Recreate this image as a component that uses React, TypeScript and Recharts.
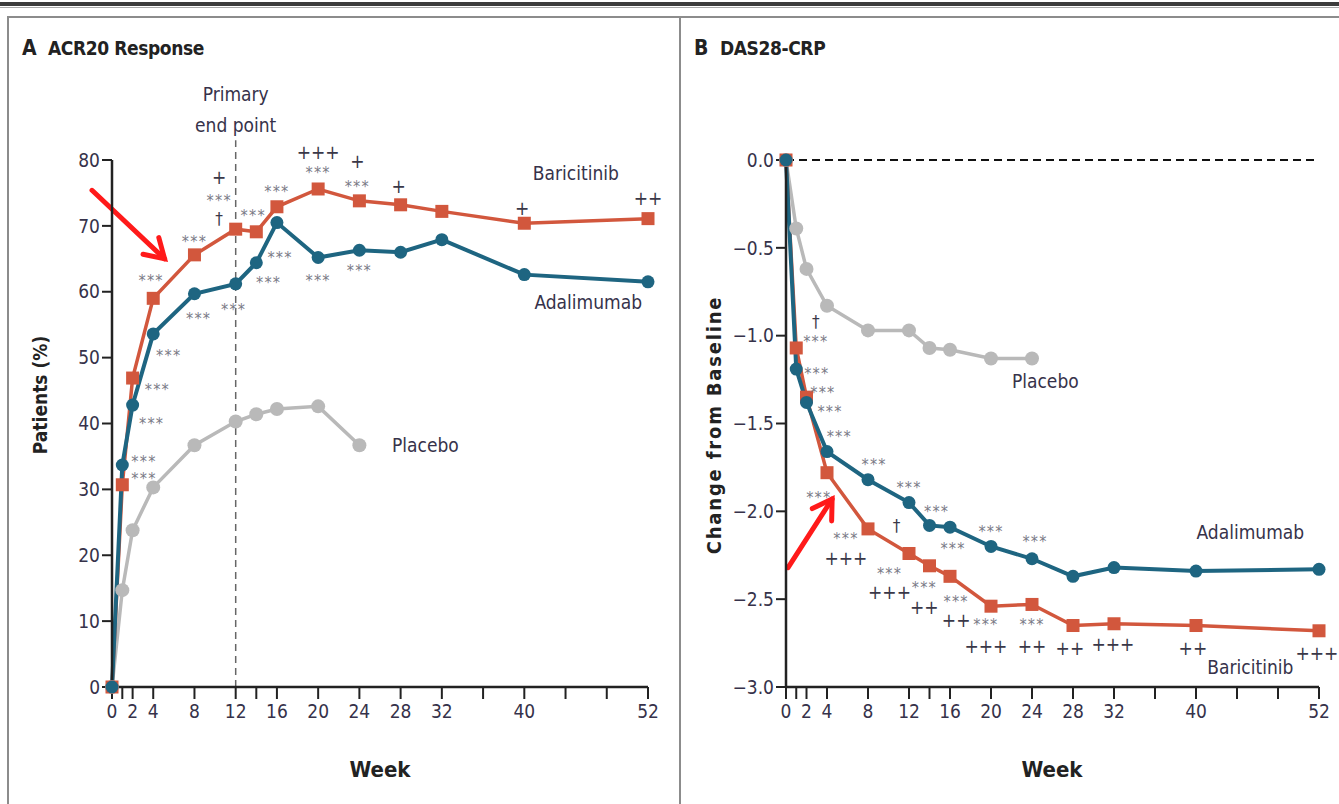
import { LineChart, Line, XAxis, YAxis, ReferenceLine, ReferenceDot } from "recharts";

const FONT = '"Liberation Sans Narrow", "DejaVu Sans Condensed", "DejaVu Sans", sans-serif';
const RED = "#d2573d";
const TEAL = "#1e6581";
const GRAY = "#b9b9b9";
const INK = "#36324a";

// shared week axis
const weekTicks = [0, 1, 2, 4, 8, 12, 14, 16, 20, 24, 28, 32, 36, 40, 44, 48, 52];
const weekLabels = [0, 2, 4, 8, 12, 16, 20, 24, 28, 32, 40, 52];

// A: ACR20 response, % of patients
const acrWeeks = [0, 1, 2, 4, 8, 12, 14, 16, 20, 24, 28, 32, 40, 52];
const acrBaricitinib = [0, 30.7, 46.9, 59.0, 65.6, 69.5, 69.1, 72.9, 75.6, 73.8, 73.2, 72.2, 70.4, 71.1];
const acrAdalimumab = [0, 33.7, 42.8, 53.6, 59.7, 61.2, 64.4, 70.5, 65.2, 66.3, 66.0, 67.9, 62.6, 61.5];
const acrPlacebo = [0, 14.7, 23.8, 30.3, 36.7, 40.3, 41.4, 42.2, 42.6, 36.7];
const acrTicks = [0, 10, 20, 30, 40, 50, 60, 70, 80];

// B: DAS28-CRP change from baseline
const dasWeeks = [0, 1, 2, 4, 8, 12, 14, 16, 20, 24, 28, 32, 40, 52];
const dasBaricitinib = [0, -1.07, -1.35, -1.78, -2.1, -2.24, -2.31, -2.37, -2.54, -2.53, -2.65, -2.64, -2.65, -2.68];
const dasAdalimumab = [0, -1.19, -1.38, -1.66, -1.82, -1.95, -2.08, -2.09, -2.2, -2.27, -2.37, -2.32, -2.34, -2.33];
const dasPlacebo = [0, -0.39, -0.62, -0.83, -0.97, -0.97, -1.07, -1.08, -1.13, -1.13];
const dasTicks = [0, -0.5, -1, -1.5, -2, -2.5, -3];

// significance marks [week, value, text]
const acrNotes: [number, number, string][] = [
  [3.8, 62.3, "***"], [8.0, 68.3, "***"],
  [10.4, 77.4, "+"], [10.4, 74.5, "***"], [10.4, 70.9, "†"],
  [13.7, 72.2, "***"], [16.0, 75.9, "***"],
  [20, 81.2, "+++"], [20, 78.8, "***"],
  [23.8, 79.7, "+"], [23.8, 76.6, "***"],
  [27.8, 76.0, "+"], [39.8, 72.7, "+"], [52, 74.2, "++"],
  [8.4, 56.5, "***"], [11.8, 58.0, "***"], [15.2, 62.0, "***"], [16.3, 65.8, "***"],
  [20, 62.4, "***"], [24, 63.8, "***"],
  [5.5, 51.0, "***"], [4.4, 45.8, "***"], [3.85, 40.6, "***"], [3.1, 34.9, "***"], [3.1, 32.3, "***"],
];
const dasNotes: [number, number, string][] = [
  [2.9, -0.93, "†"], [2.9, -1.01, "***"], [3.0, -1.19, "***"], [3.6, -1.3, "***"], [4.3, -1.41, "***"],
  [5.2, -1.55, "***"], [8.6, -1.71, "***"], [12.0, -1.84, "***"], [14.7, -1.98, "***"],
  [16.3, -2.19, "***"], [20, -2.09, "***"], [24.3, -2.15, "***"],
  [3.2, -1.9, "***"], [5.85, -2.13, "***"], [5.85, -2.27, "+++"], [10.8, -2.09, "†"],
  [10.1, -2.33, "***"], [10.1, -2.46, "+++"], [13.5, -2.41, "***"], [13.5, -2.55, "++"],
  [16.6, -2.49, "***"], [16.6, -2.62, "++"], [19.5, -2.62, "***"], [19.5, -2.77, "+++"],
  [24, -2.62, "***"], [24, -2.77, "++"],
  [27.7, -2.78, "++"], [31.9, -2.76, "+++"], [39.7, -2.78, "++"], [51.8, -2.81, "+++"],
];

// series names placed next to the lines
const acrNames: [number, number, string][] = [
  [45, 77.9, "Baricitinib"], [46.2, 58.4, "Adalimumab"], [30.4, 36.7, "Placebo"],
];
const dasNames: [number, number, string][] = [
  [25.3, -1.26, "Placebo"], [45.3, -2.12, "Adalimumab"], [45.3, -2.89, "Baricitinib"],
];

// red call-out arrows, from -> to in data units
const acrArrow = [{ x: -1.94, y: 75.4 }, { x: 5.1, y: 65.0 }];
const dasArrow = [{ x: 0.2, y: -2.32 }, { x: 4.5, y: -1.93 }];

const acrData = acrWeeks.map((w, i) => ({
  week: w,
  bari: acrBaricitinib[i],
  ada: acrAdalimumab[i],
  pbo: i < acrPlacebo.length ? acrPlacebo[i] : null,
}));
const dasData = dasWeeks.map((w, i) => ({
  week: w,
  bari: dasBaricitinib[i],
  ada: dasAdalimumab[i],
  pbo: i < dasPlacebo.length ? dasPlacebo[i] : null,
}));

const missing = (p: any) => p.cx == null || p.cy == null || p.value == null;
const Square = (p: any) =>
  missing(p) ? null : <rect key={p.key} x={p.cx - 6.5} y={p.cy - 6.5} width={13} height={13} fill={RED} />;
const TealDot = (p: any) =>
  missing(p) ? null : <circle key={p.key} cx={p.cx} cy={p.cy} r={6.5} fill={TEAL} />;
const GrayDot = (p: any) =>
  missing(p) ? null : <circle key={p.key} cx={p.cx} cy={p.cy} r={7} fill={GRAY} />;

function noteShape(t: string) {
  return (p: any) => {
    if (t === "***")
      return (
        <text
          x={p.cx}
          y={p.cy}
          dy="0.6em"
          textAnchor="middle"
          fontFamily={FONT}
          fontSize={16}
          letterSpacing={1.2}
          fill="#7a7a86"
        >
          {t}
        </text>
      );
    const dagger = t === "†";
    return (
      <text
        x={p.cx}
        y={p.cy}
        dy={dagger ? "0.3em" : "0.34em"}
        textAnchor="middle"
        fontFamily={FONT}
        fontSize={dagger ? 17 : 19}
        fill="#3a3848"
      >
        {t}
      </text>
    );
  };
}

function nameShape(t: string) {
  return (p: any) => (
    <text x={p.cx} y={p.cy} dy="0.35em" textAnchor="middle" fontFamily={FONT} fontSize={19} fill={INK}>
      {t}
    </text>
  );
}

const Arrow = (p: any) => {
  const { x1, y1, x2, y2 } = p;
  const a = Math.atan2(y2 - y1, x2 - x1);
  const L = 22;
  const s = 0.55;
  return (
    <g stroke="#ff1a1a" strokeWidth={5} fill="none" strokeLinecap="round">
      <line x1={x1} y1={y1} x2={x2} y2={y2} />
      <polyline
        points={`${x2 - L * Math.cos(a - s)},${y2 - L * Math.sin(a - s)} ${x2},${y2} ${x2 - L * Math.cos(a + s)},${y2 - L * Math.sin(a + s)}`}
        strokeLinejoin="miter"
      />
    </g>
  );
};

const tickStyle = { fontFamily: FONT, fontSize: 19, fill: INK };
const axisLine = { stroke: "#222", strokeWidth: 2.5 };
const tickLine = { stroke: "#222", strokeWidth: 2 };
const weekFmt = (v: number) => (weekLabels.includes(v) ? String(v) : "");
const dasFmt = (v: number) => (v === 0 ? "0.0" : "\u2212" + Math.abs(v).toFixed(1));

function AcrChart() {
  return (
    <LineChart width={680} height={804} data={acrData} margin={{ top: 160, right: 32, bottom: 77, left: 62 }}>
      <XAxis
        dataKey="week"
        type="number"
        domain={[0, 52]}
        ticks={weekTicks}
        interval={0}
        tickFormatter={weekFmt}
        tickSize={12}
        tickMargin={6}
        height={40}
        axisLine={axisLine}
        tickLine={tickLine}
        tick={tickStyle}
      />
      <YAxis
        type="number"
        domain={[0, 80]}
        ticks={acrTicks}
        interval={0}
        tickSize={10}
        tickMargin={2}
        width={50}
        axisLine={axisLine}
        tickLine={tickLine}
        tick={tickStyle}
      />
      <ReferenceLine
        segment={[{ x: 12, y: 0 }, { x: 12, y: 83 }]}
        stroke="#666"
        strokeWidth={1.5}
        strokeDasharray="7 5"
        ifOverflow="visible"
      />
      <Line dataKey="pbo" stroke={GRAY} strokeWidth={3.5} dot={GrayDot} isAnimationActive={false} />
      <Line dataKey="bari" stroke={RED} strokeWidth={3.5} dot={Square} isAnimationActive={false} />
      <Line dataKey="ada" stroke={TEAL} strokeWidth={4} dot={TealDot} isAnimationActive={false} />
      {acrNotes.map(([w, v, t], i) => (
        <ReferenceDot key={"n" + i} x={w} y={v} r={0} ifOverflow="visible" shape={noteShape(t)} />
      ))}
      {acrNames.map(([w, v, t]) => (
        <ReferenceDot key={t} x={w} y={v} r={0} ifOverflow="visible" shape={nameShape(t)} />
      ))}
      <ReferenceDot x={12} y={89.9} r={0} ifOverflow="visible" shape={nameShape("Primary")} />
      <ReferenceDot x={12} y={85.3} r={0} ifOverflow="visible" shape={nameShape("end point")} />
      <ReferenceLine segment={acrArrow} ifOverflow="visible" shape={Arrow} />
    </LineChart>
  );
}

function DasChart() {
  return (
    <LineChart width={659} height={804} data={dasData} margin={{ top: 160, right: 20, bottom: 77, left: 46 }}>
      <XAxis
        dataKey="week"
        type="number"
        domain={[0, 52]}
        ticks={weekTicks}
        interval={0}
        tickFormatter={weekFmt}
        tickSize={12}
        tickMargin={6}
        height={40}
        axisLine={axisLine}
        tickLine={tickLine}
        tick={tickStyle}
      />
      <YAxis
        type="number"
        domain={[-3, 0]}
        ticks={dasTicks}
        interval={0}
        tickFormatter={dasFmt}
        tickSize={10}
        tickMargin={2}
        width={60}
        axisLine={axisLine}
        tickLine={tickLine}
        tick={tickStyle}
      />
      <ReferenceLine y={0} stroke="#111" strokeWidth={2} strokeDasharray="8 5" />
      <Line dataKey="pbo" stroke={GRAY} strokeWidth={3.5} dot={GrayDot} isAnimationActive={false} />
      <Line dataKey="bari" stroke={RED} strokeWidth={3.5} dot={Square} isAnimationActive={false} />
      <Line dataKey="ada" stroke={TEAL} strokeWidth={4} dot={TealDot} isAnimationActive={false} />
      {dasNotes.map(([w, v, t], i) => (
        <ReferenceDot key={"n" + i} x={w} y={v} r={0} ifOverflow="visible" shape={noteShape(t)} />
      ))}
      {dasNames.map(([w, v, t]) => (
        <ReferenceDot key={t} x={w} y={v} r={0} ifOverflow="visible" shape={nameShape(t)} />
      ))}
      <ReferenceLine segment={dasArrow} ifOverflow="visible" shape={Arrow} />
    </LineChart>
  );
}

export default function App() {
  return (
    <div style={{ position: "relative", width: 1339, height: 804, background: "#fff", overflow: "hidden" }}>
      <style>{"body{margin:0}"}</style>
      <svg width={1339} height={804} style={{ position: "absolute", left: 0, top: 0 }}>
        <rect x={0} y={2} width={1339} height={4} fill="#3c3c3c" />
        <rect x={0} y={7} width={1339} height={1} fill="#aaa" />
        <rect x={8} y={17} width={672} height={820} fill="none" stroke="#8c8c8c" strokeWidth={2} />
        <rect x={680} y={17} width={700} height={820} fill="none" stroke="#8c8c8c" strokeWidth={2} />
        <g fontFamily={FONT} fontWeight="bold" fill="#222">
          <text x={22} y={55} fontSize={21}>A</text>
          <text x={48} y={55} fontSize={19} letterSpacing={-0.4}>ACR20 Response</text>
          <text x={694} y={55} fontSize={21}>B</text>
          <text x={720} y={55} fontSize={19} letterSpacing={-0.4}>DAS28-CRP</text>
          <text x={380} y={777} fontSize={22} textAnchor="middle">Week</text>
          <text x={1052} y={777} fontSize={22} textAnchor="middle">Week</text>
          <text x={47} y={395} fontSize={19} textAnchor="middle" transform="rotate(-90 47 395)">Patients (%)</text>
          <text x={721} y={425} fontSize={20} textAnchor="middle" letterSpacing={1.8} transform="rotate(-90 721 425)">
            Change from Baseline
          </text>
        </g>
      </svg>
      <div style={{ position: "absolute", left: 0, top: 0 }}>
        <AcrChart />
      </div>
      <div style={{ position: "absolute", left: 680, top: 0 }}>
        <DasChart />
      </div>
    </div>
  );
}
